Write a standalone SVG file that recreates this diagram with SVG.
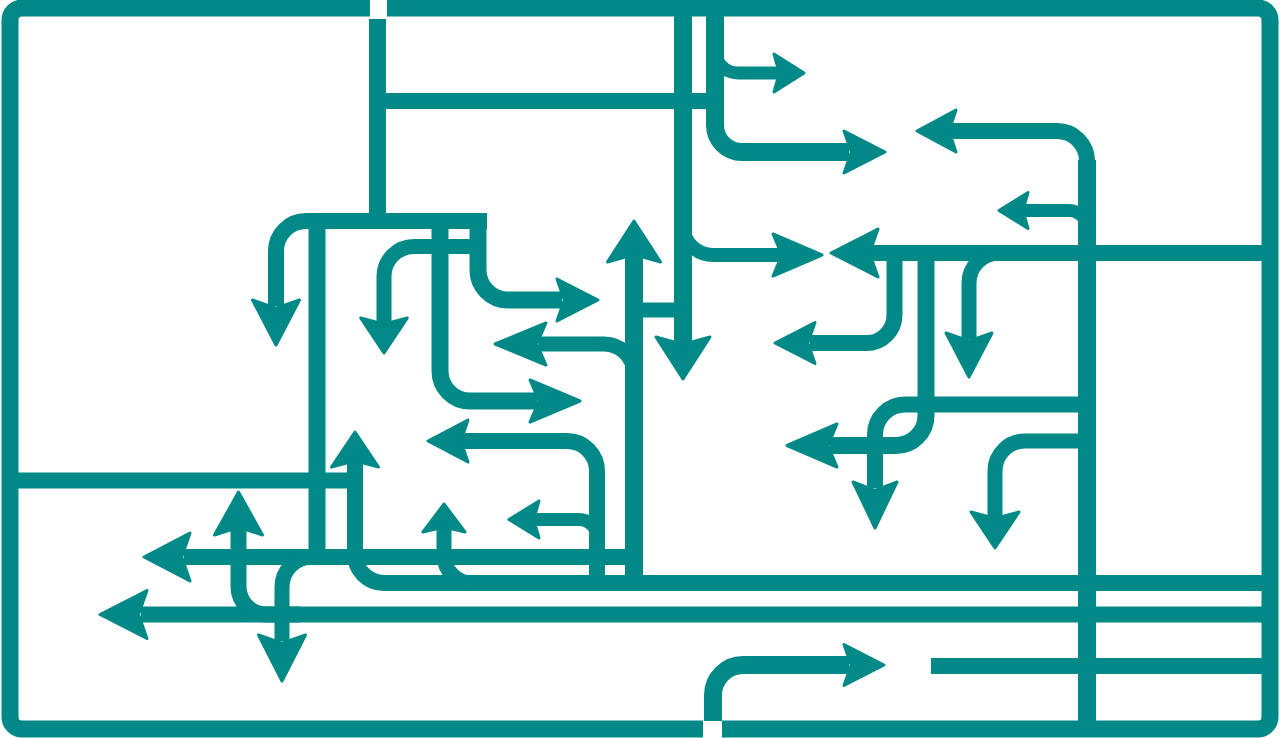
<svg xmlns="http://www.w3.org/2000/svg" width="1280" height="738" viewBox="0 0 1280 738">
  <defs>
    <style>
      .ln { fill: none; stroke: #008986; stroke-linecap: butt; stroke-linejoin: round; }
      .w17 { stroke-width: 17; }
      .w16 { stroke-width: 16; }
      .w15 { stroke-width: 15; }
      .w14 { stroke-width: 14; }
      .w13 { stroke-width: 13; }
      .ah { fill: #008986; stroke: #008986; stroke-width: 3; stroke-linejoin: round; }
    </style>
    <path id="head" d="M0,0 L-1,-1 L-0.82,0 L-1,1 Z" vector-effect="non-scaling-stroke"/>
  </defs>
  <rect width="1280" height="738" fill="#ffffff"/>

  <g id="frame">
    <path class="ln w17" d="M387,8 H1258 A12,12 0 0 1 1270,20 V717 A12,12 0 0 1 1258,729 H722"/>
    <path class="ln w17" d="M703,729 H22 A12,12 0 0 1 10,717 V20 A12,12 0 0 1 22,8 H370"/>
  </g>

  <g id="connectors">
    <!-- top entry and upper structure -->
    <path class="ln w17" d="M377.5,19 V221"/>
    <path class="ln w16" d="M377,101 H715"/>
    <path class="ln w16" d="M487,221 H306 A30,30 0 0 0 276,251 V306"/>
    <path class="ln w17" d="M478,213 V270 A30,30 0 0 0 508,300 H562"/>
    <path class="ln w17" d="M440,213 V371 A30,30 0 0 0 470,401 H537"/>
    <path class="ln w15" d="M478,246.5 H414 A30,30 0 0 0 384,276.5 V323"/>
    <path class="ln w17" d="M317,221 V561"/>
    <path class="ln w16" d="M10,480.5 H347"/>
    <path class="ln w16" d="M355,462 V554 A29,29 0 0 0 384,583 H1270"/>
    <path class="ln w16" d="M634,557 H184"/>
    <path class="ln w16" d="M1270,614.5 H141"/>
    <path class="ln w16" d="M238.5,529 V586.5 A28,28 0 0 0 266.5,614.5 H300"/>
    <path class="ln w15" d="M282,641 V587 A30,30 0 0 1 312,557 H330"/>
    <path class="ln w18" style="stroke-width:18" d="M634,256 V576"/>
    <path class="ln w15" d="M539,344 H604 A30,30 0 0 1 634,374 V390"/>
    <path class="ln w16" d="M462,441 H567 A30,30 0 0 1 597,471 V576"/>
    <path class="ln w13" d="M535,519.5 H579 A18,18 0 0 1 597,537.5 V545"/>
    <path class="ln w15" d="M444,528 V555 A28,28 0 0 0 472,583 H490"/>
    <path class="ln w15" d="M634,310 H683"/>
    <path class="ln w17" style="stroke-width:18" d="M683,16 V343"/>
    <path class="ln w14" d="M683,215 V225 A30,30 0 0 0 713,255 H780"/>
    <path class="ln w17" style="stroke-width:18" d="M715,16 V125 A27,27 0 0 0 742,152 H849"/>
    <path class="ln w13" d="M715,45 V50 A23,23 0 0 0 738,73 H778"/>

    <!-- right structure -->
    <path class="ln w16" d="M950,131 H1057 A30,30 0 0 1 1087,161 V200"/>
    <path class="ln w17" style="stroke-width:18" d="M1087,160 V729"/>
    <path class="ln w16" d="M871,253 H1270"/>
    <path class="ln w16" d="M894.5,253 V315 A28,28 0 0 1 866.5,343 H810"/>
    <path class="ln w17" d="M926,253 V415 A30,30 0 0 1 896,445.5 H830"/>
    <path class="ln w16" d="M1087,404.5 H905 A30,30 0 0 0 875,434.5 V488"/>
    <path class="ln w15" d="M969,339 V283 A30,30 0 0 1 999,253 H1010"/>
    <path class="ln w15" d="M1087,441 H1025 A30,30 0 0 0 995,471 V517"/>
    <path class="ln w13" d="M1024,210.5 H1069 A18,18 0 0 1 1087,228.5 V240"/>
    <path class="ln w16" d="M931,666 H1270"/>

    <!-- bottom entry -->
    <path class="ln w17" style="stroke-width:18" d="M713,721 V695 A30,30 0 0 1 743,665 H849"/>
  </g>

  <g id="arrowheads">
    <use class="ah" href="#head" transform="translate(804,73) scale(30,19)"/>
    <use class="ah" href="#head" transform="translate(885,152) scale(41,21)"/>
    <use class="ah" href="#head" transform="translate(822,255) scale(49,21)"/>
    <use class="ah" href="#head" transform="translate(598,300) scale(41,21)"/>
    <use class="ah" href="#head" transform="translate(580,401) scale(50,21)"/>
    <use class="ah" href="#head" transform="translate(884,665) scale(40,20.5)"/>
    <use class="ah" href="#head" transform="translate(917,131) rotate(180) scale(39,21)"/>
    <use class="ah" href="#head" transform="translate(999,210.5) rotate(180) scale(29,18)"/>
    <use class="ah" href="#head" transform="translate(831,253) rotate(180) scale(47,24)"/>
    <use class="ah" href="#head" transform="translate(495,344) rotate(180) scale(51,21)"/>
    <use class="ah" href="#head" transform="translate(775,343) rotate(180) scale(40,20.5)"/>
    <use class="ah" href="#head" transform="translate(428,441) rotate(180) scale(40,21)"/>
    <use class="ah" href="#head" transform="translate(787,445.5) rotate(180) scale(50,21.5)"/>
    <use class="ah" href="#head" transform="translate(509,519.5) rotate(180) scale(30,18.5)"/>
    <use class="ah" href="#head" transform="translate(144,557) rotate(180) scale(46,24)"/>
    <use class="ah" href="#head" transform="translate(100,614.5) rotate(180) scale(47,24)"/>
    <use class="ah" href="#head" transform="translate(634,221) rotate(-90) scale(41,26.5)"/>
    <use class="ah" href="#head" transform="translate(355,432) rotate(-90) scale(35,23.5)"/>
    <use class="ah" href="#head" transform="translate(238.5,492) rotate(-90) scale(43,24)"/>
    <use class="ah" href="#head" transform="translate(444,504) rotate(-90) scale(28,21)"/>
    <use class="ah" href="#head" transform="translate(683,379) rotate(90) scale(42,27)"/>
    <use class="ah" href="#head" transform="translate(276,345) rotate(90) scale(45,23.5)"/>
    <use class="ah" href="#head" transform="translate(384,353) rotate(90) scale(35,23.3)"/>
    <use class="ah" href="#head" transform="translate(282,681) rotate(90) scale(46,23.5)"/>
    <use class="ah" href="#head" transform="translate(969,377) rotate(90) scale(44,23)"/>
    <use class="ah" href="#head" transform="translate(875,528) rotate(90) scale(46,22)"/>
    <use class="ah" href="#head" transform="translate(995,548) rotate(90) scale(36,24)"/>
  </g>
</svg>
